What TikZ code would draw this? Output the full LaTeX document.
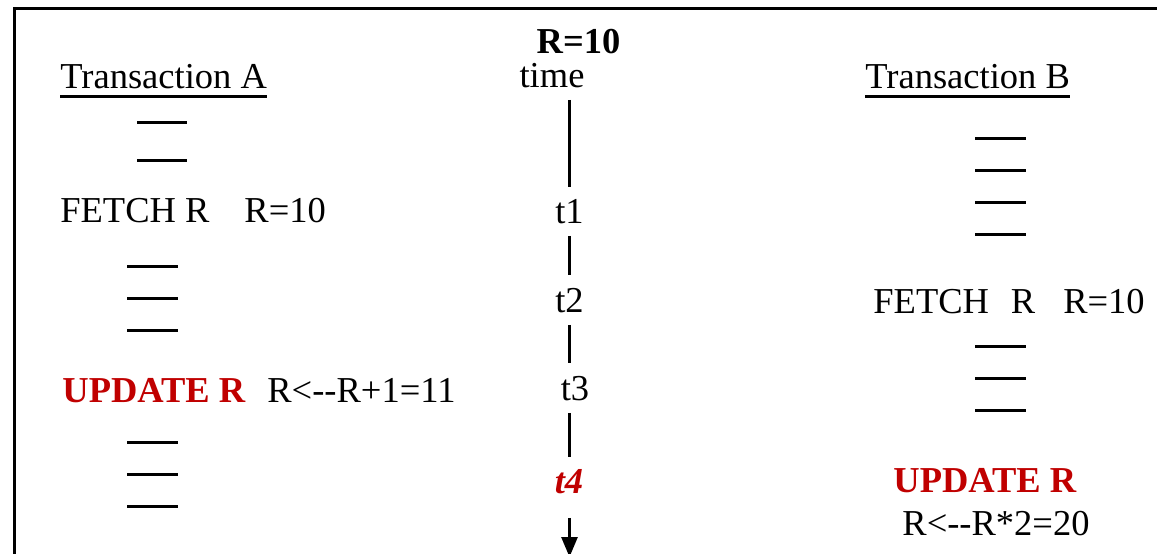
\documentclass[tikz,border=0pt]{standalone}
\usepackage{fontspec}
\setmainfont{Liberation Serif}
\usepackage{xcolor}
\usetikzlibrary{arrows.meta}
\definecolor{URed}{RGB}{192,0,0}

\begin{document}
\begin{tikzpicture}[
    x=0.5pt, y=-0.5pt,
    font=\fontsize{18.25}{22}\selectfont,
    every node/.style={inner xsep=0pt, inner ysep=6pt},
    lbl/.style={anchor=base west},
    tick/.style={anchor=base},
    seg/.style={line width=1.4pt},
    bar/.style={line width=1.5pt},
    hot/.style={text=URed, font=\fontsize{18.25}{22}\selectfont\bfseries}
  ]
  \useasboundingbox (0,0) rectangle (1157,553);
  \draw[line width=1.4pt] (14.5,8.5) rectangle (1200,600);

  % time axis
  \node[tick, font=\fontsize{18.25}{22}\selectfont\bfseries] (r0) at (578.5,53) {R=10};
  \node[tick] (time) at (552,87) {time};
  \node[tick] (t1) at (569.5,223) {t1};
  \node[tick] (t2) at (569.5,312) {t2};
  \node[tick] (t3) at (575,400) {t3};
  \node[tick, text=URed, font=\fontsize{18.25}{22}\selectfont\bfseries\itshape] (t4) at (569,493) {t4};
  \coordinate (tend) at (569.5,557);

  \draw[seg] (time.south -| t1) -- (t1.north);
  \draw[seg] (t1) -- (t2);
  \draw[seg] (t2) -- (t3.north -| t2);
  \draw[seg] (t3.south -| t2) -- (t4.north -| t2);
  \draw[seg, -{Triangle[length=10pt,width=8pt]}, shorten <=6pt] (t4.south -| t2) -- (tend);

  % transaction A
  \node[lbl] (ta) at (60,88) {Transaction A};
  \draw[bar] ([yshift=-4pt]ta.base west) -- ([yshift=-4pt]ta.base east);
  \foreach \y in {122,160}
    \draw[bar] (137,\y) -- (187,\y);
  \node[lbl] (fetchA) at (60,222) {FETCH R\hspace{17.5pt}R=10};
  \foreach \y in {266,298,330}
    \draw[bar] (127,\y) -- (178,\y);
  \node[lbl, hot] (updA) at (62,402) {UPDATE R};
  \node[lbl] (calcA) at (267,402) {R<-{}-R+1=11};
  \foreach \y in {442,474,506}
    \draw[bar] (127,\y) -- (178,\y);

  % transaction B
  \node[lbl] (tb) at (865,88) {Transaction B};
  \draw[bar] ([yshift=-4pt]tb.base west) -- ([yshift=-4pt]tb.base east);
  \foreach \y in {138,170,202,234}
    \draw[bar] (975,\y) -- (1026,\y);
  \node[lbl] (fetchB) at (873,313) {FETCH\hspace{11pt}R\hspace{14pt}R=10};
  \foreach \y in {346,378,410}
    \draw[bar] (975,\y) -- (1026,\y);
  \node[lbl, hot] (updB) at (893,492) {UPDATE R};
  \node[lbl] (calcB) at (902,535) {R<-{}-R*2=20};
\end{tikzpicture}
\end{document}
